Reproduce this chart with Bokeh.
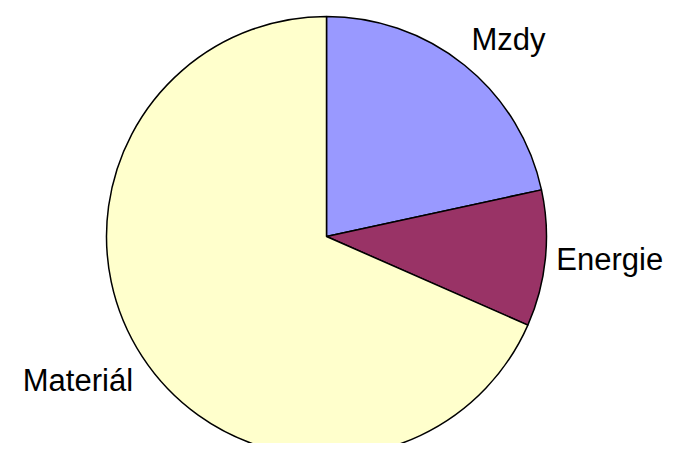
import math
from bokeh.plotting import figure
from bokeh.models import ColumnDataSource
from bokeh.core.properties import value
from bokeh.embed import file_html
from bokeh.resources import INLINE

# Data
categories = ["Mzdy", "Energie", "Materiál"]
shares = [21.6, 10.0, 68.4]
colors = ["#9999FF", "#993366", "#FFFFCC"]

W, H = 667, 443
cx, cy, R = 326, H - 236, 220
label_r = 231

total = sum(shares)
starts, ends, lx, ly, aligns, baselines = [], [], [], [], [], []
cum = 0.0
for s in shares:
    a_hi = math.pi / 2 - 2 * math.pi * cum / total
    cum += s
    a_lo = math.pi / 2 - 2 * math.pi * cum / total
    starts.append(a_lo)
    ends.append(a_hi)
    mid = (a_lo + a_hi) / 2
    c, sn = math.cos(mid), math.sin(mid)
    lx.append(cx + label_r * c)
    ly.append(cy + label_r * sn)
    aligns.append("left" if c > 0 else "right")
    baselines.append("bottom" if sn > 0.5 else ("top" if sn < -0.5 else "middle"))

src = ColumnDataSource(dict(cat=categories, start=starts, end=ends, color=colors))
lsrc = ColumnDataSource(dict(cat=categories, x=lx, y=ly, align=aligns, base=baselines))

p = figure(width=W, height=H, x_range=(0, W), y_range=(0, H),
           output_backend="svg", toolbar_location=None, min_border=0,
           match_aspect=False)
p.axis.visible = False
p.grid.visible = False
p.outline_line_color = None
p.background_fill_color = "white"

p.wedge(x=cx, y=cy, radius=R, start_angle="start", end_angle="end",
        fill_color="color", line_color="black", line_width=1.5, source=src)

p.text(x="x", y="y", text="cat", source=lsrc, text_align="align",
       text_baseline="base", text_font=value("Liberation Sans"),
       text_font_size="31px", text_color="black")

open("out.html", "w").write(file_html(p, INLINE))
